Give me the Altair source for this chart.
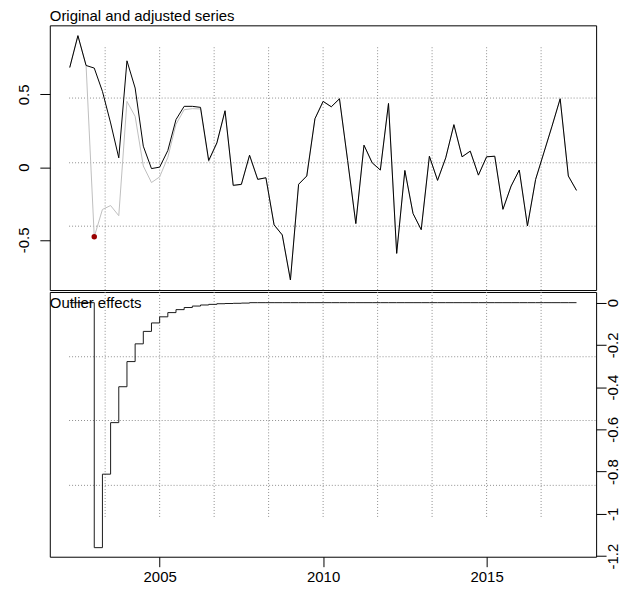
import altair as alt
import pandas as pd

# ---------------- data ----------------
quarters = [2002.25 + 0.25 * i for i in range(63)]

adjusted = [
    0.685, 0.904, 0.699, 0.681, 0.521, 0.304, 0.064, 0.731, 0.544, 0.144,
    -0.010, 0.000, 0.114, 0.327, 0.418, 0.418, 0.411, 0.046, 0.167, 0.388,
    -0.125, -0.118, 0.082, -0.084, -0.073, -0.397, -0.466, -0.776, -0.118, -0.061,
    0.333, 0.452, 0.415, 0.470, 0.045, -0.388, 0.151, 0.030, -0.020, 0.438,
    -0.593, -0.023, -0.319, -0.430, 0.075, -0.091, 0.064, 0.292, 0.071, 0.110,
    -0.055, 0.071, 0.075, -0.290, -0.130, -0.020, -0.404, -0.084, 0.098, 0.281,
    0.470, -0.061, -0.160,
]

effects_nonzero = [
    0.0, 0.0, 0.0, -1.16, -0.812, -0.568, -0.398, -0.279, -0.195, -0.136,
    -0.096, -0.067, -0.047, -0.033, -0.023, -0.016, -0.011, -0.008, -0.005, -0.004,
    -0.003, -0.002,
]
effects = effects_nonzero + [0.0] * (len(quarters) - len(effects_nonzero))

# original series = adjusted series + outlier effect
original = [a + e for a, e in zip(adjusted, effects)]

outlier_time = [2003.0]
outlier_value = [original[3]]

vgrid_x = [2003.333, 2005.0, 2006.667, 2008.333, 2010.0, 2011.667, 2013.333, 2015.0, 2016.667]
top_hgrid_y = [0.475, 0.030, -0.406]
bot_hgrid_y = [-0.256, -0.558, -0.865]

x_ticks = [2005, 2010, 2015]
top_y_ticks = [-0.5, 0, 0.5]
bot_y_ticks = [0, -0.2, -0.4, -0.6, -0.8, -1, -1.2]

top_title = "Original and adjusted series"
bot_title = "Outlier effects"

# ---------------- chart ----------------
FONT = "Liberation Sans"
FS = 15
W, H = 549, 266
X_DOMAIN = [2001.64, 2018.35]
TOP_Y = [-0.845, 0.975]
BOT_Y = [-1.203, 0.0504]
GRID_X_START = 2002.23
GRID_COLOR = "#8f8f8f"
GRID_DASH = [1, 2]

xs = alt.Scale(domain=X_DOMAIN, nice=False, zero=False)
ys_top = alt.Scale(domain=TOP_Y, nice=False, zero=False)
ys_bot = alt.Scale(domain=BOT_Y, nice=False, zero=False)

top_y_axis = alt.Axis(values=top_y_ticks, orient="left", tickSize=10, labelPadding=11,
                      labelAngle=270, labelAlign="center", labelBaseline="alphabetic",
                      labelExpr="datum.value + ''", title=None, domain=False, grid=False)
bot_y_axis = alt.Axis(values=bot_y_ticks, orient="right", tickSize=10, labelPadding=11.5,
                      labelAngle=270, labelAlign="center", labelBaseline="alphabetic",
                      labelExpr="datum.value + ''", title=None, domain=False, grid=False)
bot_x_axis = alt.Axis(values=x_ticks, orient="bottom", tickSize=10, labelPadding=3,
                      labelExpr="datum.value + ''", title=None, domain=False, grid=False,
                      labelBaseline="top")

series_df = pd.DataFrame({"t": quarters, "adjusted": adjusted,
                          "original": original, "effect": effects})

# --- top panel ---
top_vgrid = alt.Chart(pd.DataFrame({"x": vgrid_x, "y1": [TOP_Y[0]] * len(vgrid_x),
                                    "y2": [0.834] * len(vgrid_x)})).mark_rule(
    color=GRID_COLOR, strokeDash=GRID_DASH, strokeWidth=1).encode(
    x=alt.X("x:Q", scale=xs, axis=None),
    y=alt.Y("y1:Q", scale=ys_top, axis=top_y_axis),
    y2="y2:Q")
top_hgrid = alt.Chart(pd.DataFrame({"y": top_hgrid_y, "x1": [GRID_X_START] * 3,
                                    "x2": [X_DOMAIN[1]] * 3})).mark_rule(
    color=GRID_COLOR, strokeDash=GRID_DASH, strokeWidth=1).encode(
    y=alt.Y("y:Q", scale=ys_top, axis=top_y_axis),
    x=alt.X("x1:Q", scale=xs, axis=None),
    x2="x2:Q")
orig_line = alt.Chart(series_df).mark_line(color="#bebebe", strokeWidth=1).encode(
    x=alt.X("t:Q", scale=xs, axis=None),
    y=alt.Y("original:Q", scale=ys_top, axis=top_y_axis))
adj_line = alt.Chart(series_df).mark_line(color="#000000", strokeWidth=1).encode(
    x=alt.X("t:Q", scale=xs, axis=None),
    y=alt.Y("adjusted:Q", scale=ys_top, axis=top_y_axis))
out_pt = alt.Chart(pd.DataFrame({"t": outlier_time, "v": outlier_value})).mark_circle(
    color="#990000", size=30, opacity=1).encode(
    x=alt.X("t:Q", scale=xs, axis=None),
    y=alt.Y("v:Q", scale=ys_top, axis=top_y_axis))
top_txt = alt.Chart(pd.DataFrame({"label": [top_title]})).mark_text(
    align="left", baseline="alphabetic", font=FONT, fontSize=FS, color="black").encode(
    text="label:N", x=alt.value(0), y=alt.value(-4.5))

top = alt.layer(top_vgrid, top_hgrid, orig_line, adj_line, out_pt, top_txt).properties(
    width=W, height=H)

# --- bottom panel ---
bot_vgrid = alt.Chart(pd.DataFrame({"x": vgrid_x, "y1": [BOT_Y[1]] * len(vgrid_x),
                                    "y2": [-1.019] * len(vgrid_x)})).mark_rule(
    color=GRID_COLOR, strokeDash=GRID_DASH, strokeWidth=1).encode(
    x=alt.X("x:Q", scale=xs, axis=bot_x_axis),
    y=alt.Y("y1:Q", scale=ys_bot, axis=bot_y_axis),
    y2="y2:Q")
bot_hgrid = alt.Chart(pd.DataFrame({"y": bot_hgrid_y, "x1": [GRID_X_START] * 3,
                                    "x2": [X_DOMAIN[1]] * 3})).mark_rule(
    color=GRID_COLOR, strokeDash=GRID_DASH, strokeWidth=1).encode(
    y=alt.Y("y:Q", scale=ys_bot, axis=bot_y_axis),
    x=alt.X("x1:Q", scale=xs, axis=bot_x_axis),
    x2="x2:Q")
eff_line = alt.Chart(series_df).mark_line(color="#1a1a1a", strokeWidth=1,
                                          interpolate="step-after").encode(
    x=alt.X("t:Q", scale=xs, axis=bot_x_axis),
    y=alt.Y("effect:Q", scale=ys_bot, axis=bot_y_axis))
bot_txt = alt.Chart(pd.DataFrame({"label": [bot_title]})).mark_text(
    align="left", baseline="alphabetic", font=FONT, fontSize=FS, color="black").encode(
    text="label:N", x=alt.value(0), y=alt.value(16.5))

bottom = alt.layer(bot_vgrid, bot_hgrid, eff_line, bot_txt).properties(width=W, height=H)

chart = alt.vconcat(top, bottom, spacing=0).properties(
    padding={"left": 8, "top": -1, "right": 0, "bottom": 0},
    background="white",
).configure_view(
    stroke="black", strokeWidth=1
).configure_axis(
    labelFont=FONT, labelFontSize=FS, labelColor="black", tickColor="black", tickWidth=1
)

chart.save("out.html", embed_options={"renderer": "svg", "actions": False})
